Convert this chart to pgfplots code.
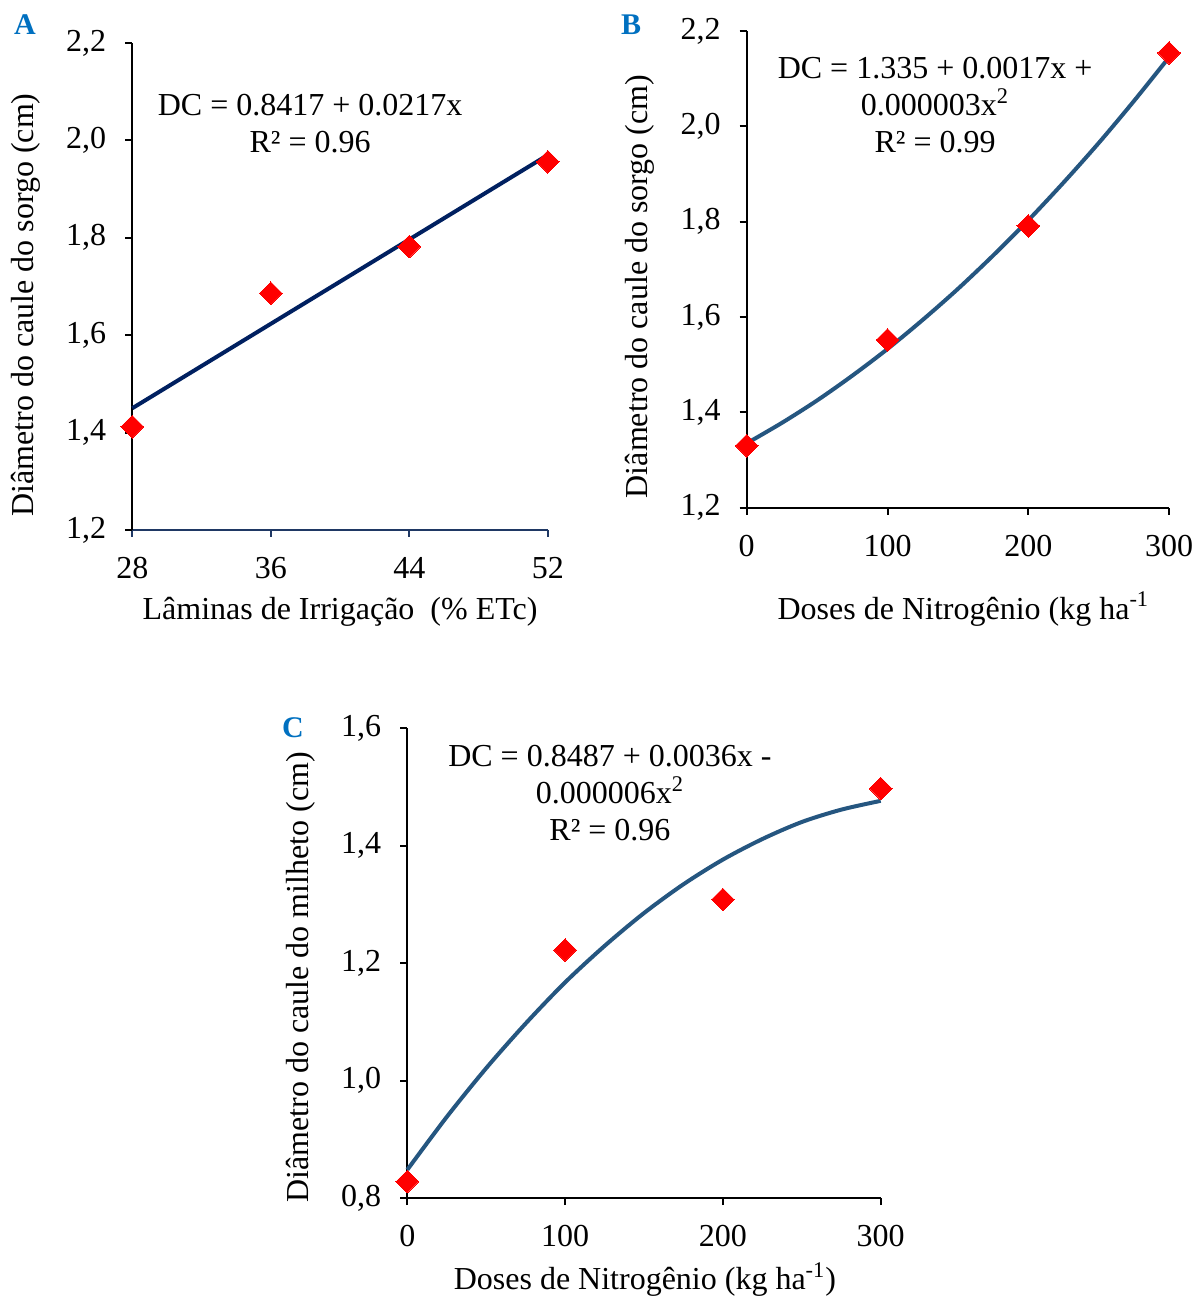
\documentclass[border=0pt]{standalone}
\usepackage{pgfplots}
\pgfplotsset{compat=1.18}
\usepackage{fontspec}
\setmainfont{Liberation Serif}
\definecolor{navyline}{RGB}{0,32,96}
\definecolor{blueline}{RGB}{37,86,128}
\definecolor{panelblue}{RGB}{0,112,192}
\definecolor{axisnavy}{RGB}{31,56,100}

\pgfplotsset{
  base/.style={
    scale only axis,
    axis x line*=bottom, axis y line*=left,
    axis line style={-, line width=1pt, black},
    tick align=outside,
    major tick length=3.5pt,
    tick style={line width=1pt, black},
    clip=false,
    /pgf/number format/assume math mode=true,
    tick label style={font=\fontsize{16}{19}\selectfont},
    label style={font=\fontsize{16}{19}\selectfont},
    xticklabel style={yshift=-6.5pt},
    yticklabel style={xshift=-6pt, /pgf/number format/fixed, /pgf/number format/fixed zerofill, /pgf/number format/precision=1, /pgf/number format/use comma},
    scaled ticks=false,
  },
  pts/.style={only marks, mark=square*, mark size=4pt, mark options={rotate=45, fill=red, draw=red, line width=0pt}},
  fitline/.style={no marks, line width=2pt},
}
\tikzset{eq/.style={align=center, font=\fontsize{16}{18.5}\selectfont},
  lett/.style={font=\fontsize{15}{17}\selectfont\bfseries, text=panelblue}}

\begin{document}
\begin{tikzpicture}
\useasboundingbox (0,0) rectangle (597.5pt,648.5pt);

% Panel A
\begin{axis}[base,
  at={(66.15pt,383.5pt)}, anchor=south west,
  width=207.75pt, height=243.5pt,
  xmin=28, xmax=52, ymin=1.2, ymax=2.2,
  xtick={28,36,44,52}, ytick={1.2,1.4,1.6,1.8,2.0,2.2},
  x axis line style={draw=axisnavy}, xtick style={draw=axisnavy},
  xlabel={Lâminas de Irrigação\ \ (\% ETc)},
  ylabel={Diâmetro do caule do sorgo (cm)},
  xlabel style={at={(axis description cs:0.5,-0.168)}, anchor=center},
  ylabel style={at={(axis description cs:-0.257,0.462)}, anchor=center},
]
\addplot[pts] coordinates {(28,1.412) (36,1.686) (44,1.782) (52,1.956)};
\addplot[fitline, navyline] coordinates {(28,1.450) (52,1.970)};
\node[eq] at (axis description cs:0.428,0.834) {DC = 0.8417 + 0.0217x\\R² = 0.96};
\end{axis}

% Panel B
\begin{axis}[base,
  at={(373.35pt,394.65pt)}, anchor=south west,
  width=211.2pt, height=238.35pt,
  xmin=0, xmax=300, ymin=1.2, ymax=2.2,
  xtick={0,100,200,300}, ytick={1.2,1.4,1.6,1.8,2.0,2.2},
  xlabel={Doses de Nitrogênio (kg ha\textsuperscript{-1}},
  ylabel={Diâmetro do caule do sorgo (cm)},
  xlabel style={at={(axis description cs:0.513,-0.213)}, anchor=center},
  ylabel style={at={(axis description cs:-0.253,0.464)}, anchor=center},
]
\addplot[pts] coordinates {(0,1.330) (100,1.552) (200,1.791) (300,2.154)};
\addplot[fitline, blueline, smooth] coordinates {
 (0,1.335) (25,1.378) (50,1.425) (75,1.477) (100,1.533) (125,1.594) (150,1.659)
 (175,1.729) (200,1.803) (225,1.882) (250,1.965) (275,2.053) (300,2.145)};
\node[eq] at (axis description cs:0.446,0.844) {DC = 1.335 + 0.0017x +\\0.000003x\textsuperscript{2}\\R² = 0.99};
\end{axis}

% Panel C
\begin{axis}[base,
  at={(203.65pt,49.5pt)}, anchor=south west,
  width=236.7pt, height=235pt,
  xmin=0, xmax=300, ymin=0.8, ymax=1.6,
  xtick={0,100,200,300}, ytick={0.8,1.0,1.2,1.4,1.6},
  xlabel={Doses de Nitrogênio (kg ha\textsuperscript{-1})},
  ylabel={Diâmetro do caule do milheto (cm)},
  xlabel style={at={(axis description cs:0.502,-0.174)}, anchor=center},
  ylabel style={at={(axis description cs:-0.225,0.47)}, anchor=center},
]
\addplot[pts] coordinates {(0,0.828) (100,1.222) (200,1.308) (300,1.497)};
\addplot[fitline, blueline, smooth] coordinates {
 (0,0.848) (25,0.938) (50,1.021) (75,1.097) (100,1.167) (125,1.229) (150,1.285)
 (175,1.334) (200,1.376) (225,1.411) (250,1.440) (275,1.461) (300,1.476)};
\node[eq] at (axis description cs:0.428,0.861) {DC = 0.8487 + 0.0036x -\\0.000006x\textsuperscript{2}\\R² = 0.96};
\end{axis}

\node[lett] at (12.5pt,636pt) {A};
\node[lett] at (315.5pt,636pt) {B};
\node[lett] at (146.5pt,284.5pt) {C};
\end{tikzpicture}
\end{document}
